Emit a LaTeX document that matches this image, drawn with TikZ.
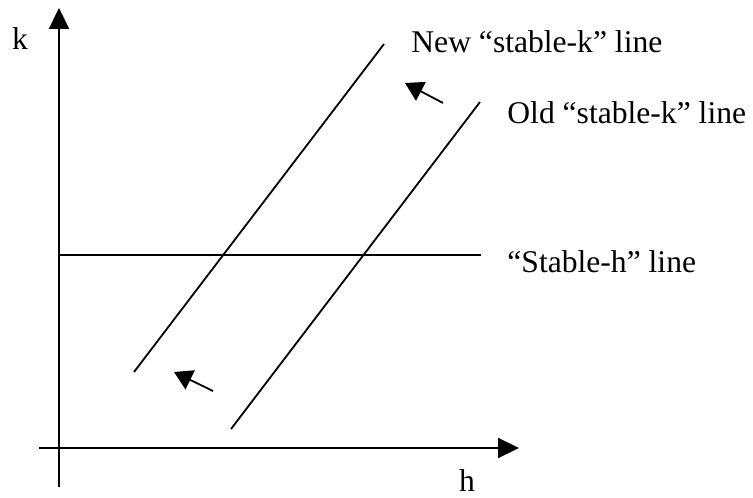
\documentclass[tikz,border=0pt]{standalone}
\usepackage{fontspec}
\setmainfont{Liberation Serif}
\usepackage{tikz}
\usetikzlibrary{arrows.meta, positioning}

\begin{document}
\begin{tikzpicture}[
    x=0.5pt, y=-0.5pt,
    axis/.style={line width=1.1pt, -{Triangle[length=10.5pt, width=10pt]}},
    curve/.style={line width=0.9pt},
    shiftarrow/.style={line width=0.9pt, -{Triangle[length=9pt, width=10.5pt]}},
    lbl/.style={font=\fontsize{15.8}{18}\selectfont, inner sep=0pt}
]
\useasboundingbox (0,0) rectangle (753,497);
% axes
\coordinate (ybot) at (59,487);
\coordinate (ytop) at (59,8);
\coordinate (xleft) at (39,448);
\coordinate (xright) at (519,448);
\draw[axis] (ybot) -- (ytop);
\draw[axis] (xleft) -- (xright);
\node[lbl] (klab) at (20,39) {k};
\node[lbl] (hlab) at (467,481) {h};
% stable lines
\coordinate (newa) at (134,372);
\coordinate (newb) at (384,44);
\coordinate (olda) at (231,429);
\coordinate (oldb) at (480,102);
\coordinate (sha) at (59,255);
\coordinate (shb) at (481,255);
\foreach \a/\b in {newa/newb,olda/oldb,sha/shb}
  \draw[curve] (\a) -- (\b);
\node[lbl, anchor=west] (newlab) at (411,42) {New ``stable-k'' line};
\node[lbl, anchor=west] (oldlab) at (507,113) {Old ``stable-k'' line};
\node[lbl, anchor=west] (shlab) at (507,262) {``Stable-h'' line};
% shift arrows
\coordinate (upfrom) at (443,103);
\coordinate (upto) at (405,83);
\coordinate (lowfrom) at (213,391);
\coordinate (lowto) at (174,372);
\foreach \a/\b in {upfrom/upto,lowfrom/lowto}
  \draw[shiftarrow] (\a) -- (\b);
\end{tikzpicture}
\end{document}
